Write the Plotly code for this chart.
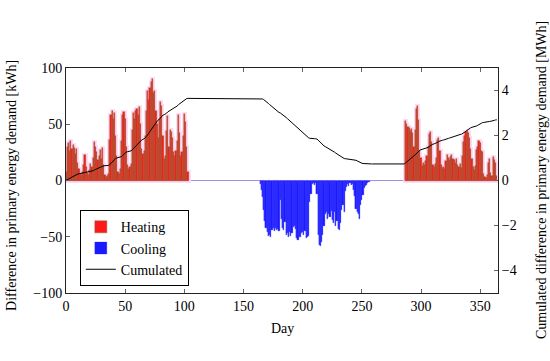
import numpy as np
import plotly.graph_objects as go

# ---- data (daily difference in primary energy demand, kWh) ----
heating_spring_start = 0
heating_spring = [8, 30, 33, 26, 35, 28, 32, 29, 24, 28,
                  16, 10, 6, 5, 8, 14, 23, 12, 7, 5,
                  9, 15, 12, 20, 34, 30, 25, 18, 22, 27,
                  19, 29, 14, 5, 3, 4, 6, 36, 58, 62,
                  55, 60, 40, 22, 8, 6, 10, 35, 58, 61,
                  55, 30, 14, 10, 12, 15, 45, 60, 55, 62,
                  64, 58, 65, 50, 28, 24, 26, 40, 62, 80,
                  72, 82, 88, 90, 78, 80, 62, 50, 38, 55,
                  70, 66, 40, 19, 22, 44, 57, 30, 45, 43,
                  38, 25, 22, 26, 35, 58, 42, 22, 25, 40,
                  59, 52, 30, 8]

cooling_start = 164
cooling = [-3, -8, -15, -26, -36, -42, -46, -49, -48, -50,
           -44, -42, -45, -42, -44, -43, -45, -17, -34, -42,
           -44, -37, -48, -47, -50, -46, -49, -47, -41, -40,
           -43, -51, -53, -50, -50, -47, -46, -48, -45, -51,
           -50, -49, -19, -12, -3, -2, -4, -2, -12, -48,
           -57, -58, -55, -48, -40, -30, -28, -34, -30, -32,
           -27, -35, -38, -28, -40, -36, -43, -44, -38, -26,
           -22, -28, -9, -6, -3, -5, -2, -4, -3, -8,
           -14, -25, -28, -30, -34, -22, -17, -13, -7, -5,
           -4, -2, -1]

heating_autumn_start = 287
heating_autumn = [53, 50, 48, 47, 44, 46, 42, 30, 45, 64,
                  66, 54, 26, 20, 13, 16, 14, 17, 22, 30,
                  41, 43, 34, 14, 12, 15, 20, 36, 38, 26,
                  14, 11, 12, 10, 17, 23, 20, 18, 21, 23,
                  19, 18, 16, 19, 14, 12, 15, 11, 22, 34,
                  40, 43, 44, 42, 38, 28, 19, 12, 9, 13,
                  27, 30, 35, 33, 26, 25, 6, 3, 2, 5,
                  16, 19, 7, 4, 21, 18, 16, 4]

n_days = 365
x_ticks = [0, 50, 100, 150, 200, 250, 300, 350]
y_ticks = [-100, -50, 0, 50, 100]
y2_ticks = [-4, -2, 0, 2, 4]

# ---- derived series ----
heat_x = (list(range(heating_spring_start, heating_spring_start + len(heating_spring)))
          + list(range(heating_autumn_start, heating_autumn_start + len(heating_autumn))))
heat_y = heating_spring + heating_autumn
cool_x = list(range(cooling_start, cooling_start + len(cooling)))

daily = np.zeros(n_days)
daily[heating_spring_start:heating_spring_start + len(heating_spring)] += heating_spring
daily[cooling_start:cooling_start + len(cooling)] += cooling
daily[heating_autumn_start:heating_autumn_start + len(heating_autumn)] += heating_autumn
cumulated = np.cumsum(daily) / 1000.0
days = list(range(n_days))

FONT = "Liberation Serif, Times New Roman, serif"

fig = go.Figure()

# pink halo behind heating bars
fig.add_trace(go.Bar(x=heat_x, y=heat_y, width=1, showlegend=False, hoverinfo="skip",
                     marker=dict(color="#ffdcf6", line=dict(color="#ffdcf6", width=4))))
fig.add_trace(go.Bar(x=heat_x, y=heat_y, width=1, name="Heating",
                     marker=dict(color="#ff1a1a", line=dict(color="#8b5a2b", width=0.45))))
fig.add_trace(go.Bar(x=cool_x, y=cooling, width=1, name="Cooling",
                     marker=dict(color="#1a1aff", line=dict(color="#2222ff", width=0.3))))
fig.add_trace(go.Scatter(x=days, y=cumulated, mode="lines", name="Cumulated",
                         line=dict(color="black", width=1), yaxis="y2"))

frame = "#222222"
tickfont = dict(family=FONT, size=14, color="black")
fig.update_layout(
    width=550, height=361,
    margin=dict(l=66, r=52, t=68, b=68),
    plot_bgcolor="white", paper_bgcolor="white",
    barmode="overlay", bargap=0,
    font=dict(family=FONT, size=14, color="black"),
    xaxis=dict(range=[0, 365], tickvals=x_ticks, ticks="inside", ticklen=4,
               tickcolor="#666", showline=True, linecolor=frame, linewidth=1,
               mirror="ticks", showgrid=False, zeroline=False, automargin=False,
               tickfont=tickfont),
    yaxis=dict(range=[-100, 100], tickvals=y_ticks, ticks="inside", ticklen=4,
               tickcolor="#666", showline=True, linecolor=frame, linewidth=1,
               showgrid=False, zeroline=True, zerolinecolor="#a58fe6", zerolinewidth=1,
               automargin=False, tickfont=tickfont),
    yaxis2=dict(range=[-5, 5], tickvals=y2_ticks, overlaying="y", side="right",
                ticks="inside", ticklen=4, tickcolor="#666", showline=True,
                linecolor=frame, linewidth=1, showgrid=False, zeroline=False,
                automargin=False, tickfont=tickfont),
    legend=dict(x=0.032, y=0.03, xanchor="left", yanchor="bottom",
                bordercolor="black", borderwidth=1, bgcolor="white",
                font=dict(family=FONT, size=14)),
    annotations=[
        dict(text="Day", xref="paper", yref="paper", x=0.5, y=-0.156,
             showarrow=False, xanchor="center", yanchor="middle",
             font=dict(family=FONT, size=14)),
        dict(text="Difference in primary energy demand [kWh]", xref="paper", yref="paper",
             x=-0.125, y=0.476, textangle=-90, showarrow=False,
             xanchor="center", yanchor="middle", font=dict(family=FONT, size=14)),
        dict(text="Cumulated difference in primary energy demand [MWh]", xref="paper",
             yref="paper", x=1.0995, y=0.502, textangle=-90, showarrow=False,
             xanchor="center", yanchor="middle", font=dict(family=FONT, size=14)),
    ],
)

fig.write_html("out.html", config={"displayModeBar": False},
               post_script="document.body.style.margin='0';document.body.style.padding='0';")
